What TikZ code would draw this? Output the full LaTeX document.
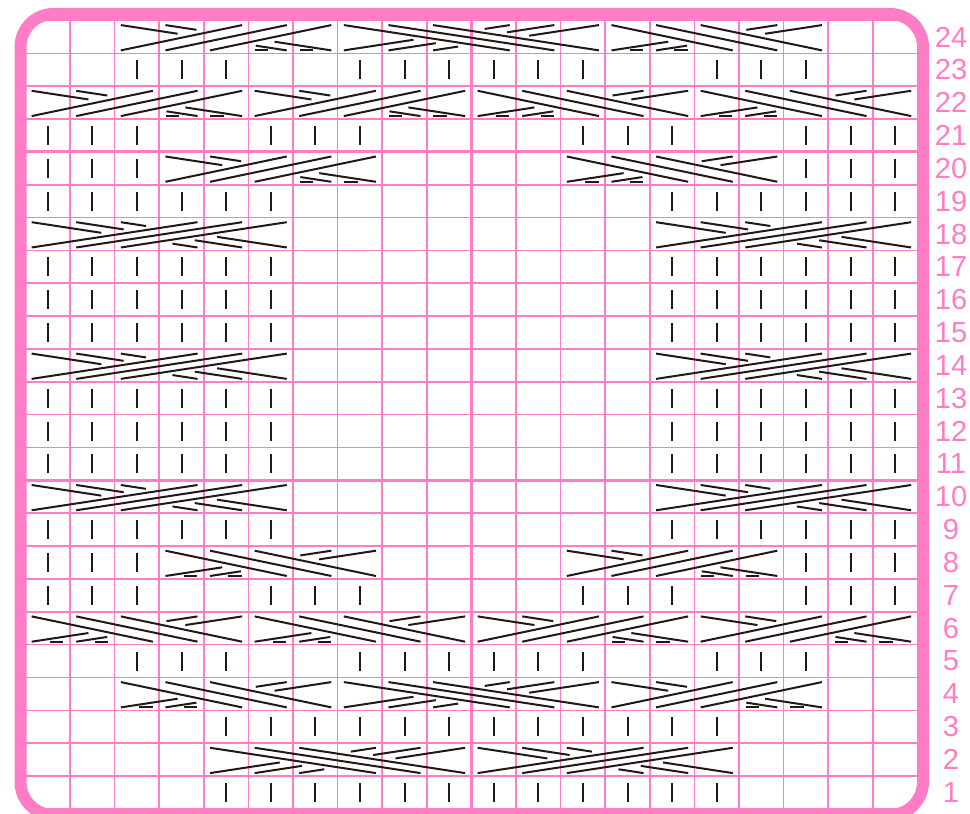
\documentclass[tikz,border=0pt]{standalone}
\usepackage{fontspec}
\setmainfont{Liberation Sans}
\definecolor{chartpink}{RGB}{255,125,196}
\definecolor{yarn}{RGB}{35,24,21}
\tikzset{
  gridline/.style={chartpink, line width=1.6pt},
  tenline/.style={chartpink, line width=2.8pt},
  strand/.style={yarn, line width=2pt},
  knitbar/.style={yarn, line width=2pt},
  rownum/.style={chartpink, font=\fontsize{29}{29}\selectfont, inner sep=0pt},
}
\def\cmar{0.14}
\def\cgap{0.08}
% knit stitches: row, list of columns
\newcommand{\knits}[2]{\foreach \c in {#2} {\draw[knitbar] (\c-0.5,#1-0.79) -- (\c-0.5,#1-0.21);}}
% cable, left group in front: row, first col, left count, right count, purl behind
\newcommand{\crossright}[5]{%
  \pgfmathsetmacro{\cyb}{#1-0.91}
  \pgfmathsetmacro{\cyt}{#1-0.14}
  \pgfmathsetmacro{\cxo}{#2-1}
  \pgfmathsetmacro{\cdd}{#3+#4+2-4*\cmar}
  \pgfmathtruncatemacro{\cnp}{#3-1}
  \pgfmathtruncatemacro{\cnq}{#4-1}
  \foreach \i in {0,...,\cnp}
    {\draw[strand] ({\cxo+\i+\cmar},\cyb) -- ({\cxo+\i+#4+1-\cmar},\cyt);}
  \foreach \j in {0,...,\cnq}{
    \pgfmathsetmacro{\sbx}{\cxo+#3+\j+1-\cmar}
    \pgfmathsetmacro{\stx}{\cxo+\j+\cmar}
    \pgfmathsetmacro{\sta}{(\j+2-2*\cmar)/\cdd-\cgap}
    \pgfmathsetmacro{\stb}{(#3+\j+1-2*\cmar)/\cdd+\cgap}
    \draw[strand] (\sbx,\cyb) -- ({\sbx+\sta*(\stx-\sbx)},{\cyb+\sta*(\cyt-\cyb)});
    \draw[strand] ({\sbx+\stb*(\stx-\sbx)},{\cyb+\stb*(\cyt-\cyb)}) -- (\stx,\cyt);
    \ifnum#5=1 \draw[strand] ({\cxo+#3+\j+0.15},\cyb) -- ({\cxo+#3+\j+0.45},\cyb);\fi
  }}
% cable, right group in front
\newcommand{\crossleft}[5]{%
  \pgfmathsetmacro{\cyb}{#1-0.91}
  \pgfmathsetmacro{\cyt}{#1-0.14}
  \pgfmathsetmacro{\cxo}{#2-1}
  \pgfmathsetmacro{\cdd}{#3+#4+2-4*\cmar}
  \pgfmathtruncatemacro{\cnp}{#3-1}
  \pgfmathtruncatemacro{\cnq}{#4-1}
  \foreach \j in {0,...,\cnq}
    {\draw[strand] ({\cxo+#3+\j+1-\cmar},\cyb) -- ({\cxo+\j+\cmar},\cyt);}
  \foreach \i in {0,...,\cnp}{
    \pgfmathsetmacro{\sbx}{\cxo+\i+\cmar}
    \pgfmathsetmacro{\stx}{\cxo+\i+#4+1-\cmar}
    \pgfmathsetmacro{\sta}{(#3-\i+1-2*\cmar)/\cdd-\cgap}
    \pgfmathsetmacro{\stb}{(#3+#4-\i-2*\cmar)/\cdd+\cgap}
    \draw[strand] (\sbx,\cyb) -- ({\sbx+\sta*(\stx-\sbx)},{\cyb+\sta*(\cyt-\cyb)});
    \draw[strand] ({\sbx+\stb*(\stx-\sbx)},{\cyb+\stb*(\cyt-\cyb)}) -- (\stx,\cyt);
    \ifnum#5=1 \draw[strand] ({\cxo+\i+0.55},\cyb) -- ({\cxo+\i+0.85},\cyb);\fi
  }}
\begin{document}
\begin{tikzpicture}[x=1pt, y=1pt]
    \useasboundingbox[fill=white] (0,0) rectangle (970,814);
    % grid
    \begin{scope}
        \clip[rounded corners=33pt] (20.5,-1) rectangle (923,800);
        \begin{scope}[shift={(25.4,5.1)}, x=44.6pt, y=32.85pt]
            \foreach \c in {0,...,20} {\draw[gridline] (\c,0) -- (\c,24);}
            \foreach \r in {0,...,24} {\draw[gridline] (0,\r) -- (20,\r);}
            \draw[tenline] (10,0) -- (10,24);
            \draw[tenline] (0,10) -- (20,10) (0,20) -- (20,20);
        \end{scope}
    \end{scope}
    \draw[chartpink, line width=12pt, rounded corners=33pt] (20.5,-1) rectangle (923,800);
    % stitches
    \begin{scope}[shift={(25.4,5.1)}, x=44.6pt, y=32.85pt]
        \knits{1}{5,...,16}
        \knits{3}{5,...,16}
        \foreach \r in {5,23} {\knits{\r}{3,4,5,8,9,10,11,12,13,16,17,18}}
        \foreach \r in {7,21} {\knits{\r}{1,2,3,6,7,8,13,14,15,18,19,20}}
        \foreach \r in {8,20} {\knits{\r}{1,2,3,18,19,20}}
        \foreach \r in {9,11,12,13,15,16,17,19} {\knits{\r}{1,2,3,4,5,6,15,16,17,18,19,20}}
        % cables
        \crossleft{2}{5}{3}{3}{0}
        \crossright{2}{11}{3}{3}{0}
        \crossleft{4}{3}{2}{3}{1}
        \crossleft{4}{8}{3}{3}{0}
        \crossright{4}{14}{3}{2}{1}
        \crossleft{6}{1}{2}{3}{1}
        \crossleft{6}{6}{2}{3}{1}
        \crossright{6}{11}{3}{2}{1}
        \crossright{6}{16}{3}{2}{1}
        \crossleft{8}{4}{2}{3}{1}
        \crossright{8}{13}{3}{2}{1}
        \foreach \r in {10,14,18} {\crossright{\r}{1}{3}{3}{0} \crossright{\r}{15}{3}{3}{0}}
        \crossright{20}{4}{3}{2}{1}
        \crossleft{20}{13}{2}{3}{1}
        \crossright{22}{1}{3}{2}{1}
        \crossright{22}{6}{3}{2}{1}
        \crossleft{22}{11}{2}{3}{1}
        \crossleft{22}{16}{2}{3}{1}
        \crossright{24}{3}{3}{2}{1}
        \crossleft{24}{8}{3}{3}{0}
        \crossleft{24}{14}{2}{3}{1}
    \end{scope}
    % row numbers
    \foreach \r in {1,...,24}
        {\node[rownum] (n\r) at (951,{5.1+32.85*(\r-0.5)}) {\r};}
\end{tikzpicture}
\end{document}
